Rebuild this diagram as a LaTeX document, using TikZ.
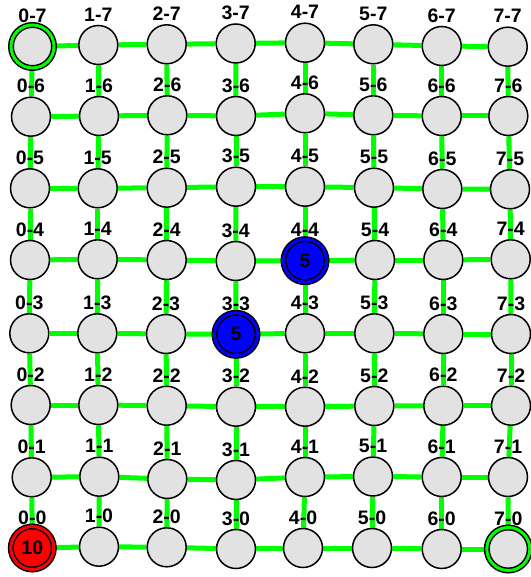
\documentclass[tikz,border=0pt]{standalone}
\usepackage{fontspec}
\setmainfont{Liberation Sans}
\usetikzlibrary{backgrounds}
\definecolor{nodegray}{RGB}{226,226,226}
\definecolor{edgegreen}{RGB}{0,255,0}
\definecolor{startred}{RGB}{255,0,0}
\definecolor{goalblue}{RGB}{0,0,255}
\tikzset{
  cell/.style={circle, draw=black, line width=1.5pt, fill=nodegray, minimum size=39pt, inner sep=0pt,
    font=\fontsize{19.5}{22}\selectfont\bfseries},
  ringed/.style={cell, minimum size=43pt, double=#1, double distance=3pt},
  lbl/.style={inner sep=0pt, font=\fontsize{19.5}{22}\selectfont\bfseries},
  link/.style={draw=edgegreen, line width=5pt}
}
\begin{document}
\begin{tikzpicture}[x=1pt,y=-1pt]
\useasboundingbox (0,0) rectangle (530,577);
% regular nodes
\foreach \i/\j/\x/\y in {
  1/7/98.3/45, 2/7/166.7/44.3, 3/7/235.7/43.5, 4/7/305/42.7, 5/7/373.3/44.3, 6/7/441.7/46, 7/7/507.7/46.7,
  0/6/31/116.7, 1/6/99/116, 2/6/167.3/115.3, 3/6/236/116, 4/6/305/113.3, 5/6/373.3/115.3, 6/6/441.7/116, 7/6/508.3/116,
  0/5/30/188.3, 1/5/97.7/188.3, 2/5/166.7/187.7, 3/5/236/186.7, 4/5/305/186.7, 5/5/374/187.7, 6/5/442.3/189, 7/5/510/189.3,
  0/4/30/260, 1/4/97.7/259.3, 2/4/166.7/260, 3/4/235.7/261, 5/4/375/260, 6/4/443.3/260, 7/4/510.7/259.3,
  0/3/29.3/333.3, 1/3/97.3/333.3, 2/3/166/334, 4/3/305/333.3, 5/3/374.3/333.3, 6/3/443.3/334, 7/3/511/334,
  0/2/30.7/405, 1/2/98.3/405, 2/2/166.7/405.7, 3/2/236/406.7, 4/2/305/406.7, 5/2/374.3/406, 6/2/443.3/405.7, 7/2/511/405.7,
  0/1/31.7/477.3, 1/1/99.3/476.7, 2/1/167.3/479, 3/1/236/480, 4/1/305/477, 5/1/373/476.5, 6/1/441.7/477, 7/1/508/477,
  1/0/99/546.7, 2/0/166.7/547.3, 3/0/236/549, 4/0/303/548, 5/0/372/548, 6/0/441.7/549}
  {\node[cell] (n\i\j) at (\x,\y) {};}
% special nodes
\node[ringed=edgegreen] (n07) at (32.5,46.5) {};
\node[ringed=edgegreen] (n70) at (508.3,549) {};
\node[ringed=startred, fill=startred] (n00) at (32.3,548) {10};
\node[ringed=goalblue, fill=goalblue] (n44) at (305,260.7) {5};
\node[ringed=goalblue, fill=goalblue] (n33) at (236,334.3) {5};
% labels
\foreach \i in {0,...,7}{
  \foreach \j in {0,...,7}{
    \node[lbl] (l\i\j) at ([yshift=30.5pt]n\i\j.center) {\i-\j};
  }
}
% edges
\begin{pgfonlayer}{background}
  \fill[white] (0,0) rectangle (530,577);
  \foreach \j in {0,...,7}{
    \foreach \i [evaluate=\i as \ni using int(\i+1)] in {0,...,6}{
      \draw[link] (n\i\j) -- (n\ni\j);
      \draw[link] (n\j\i) -- (n\j\ni);
    }
  }
\end{pgfonlayer}
\end{tikzpicture}
\end{document}
